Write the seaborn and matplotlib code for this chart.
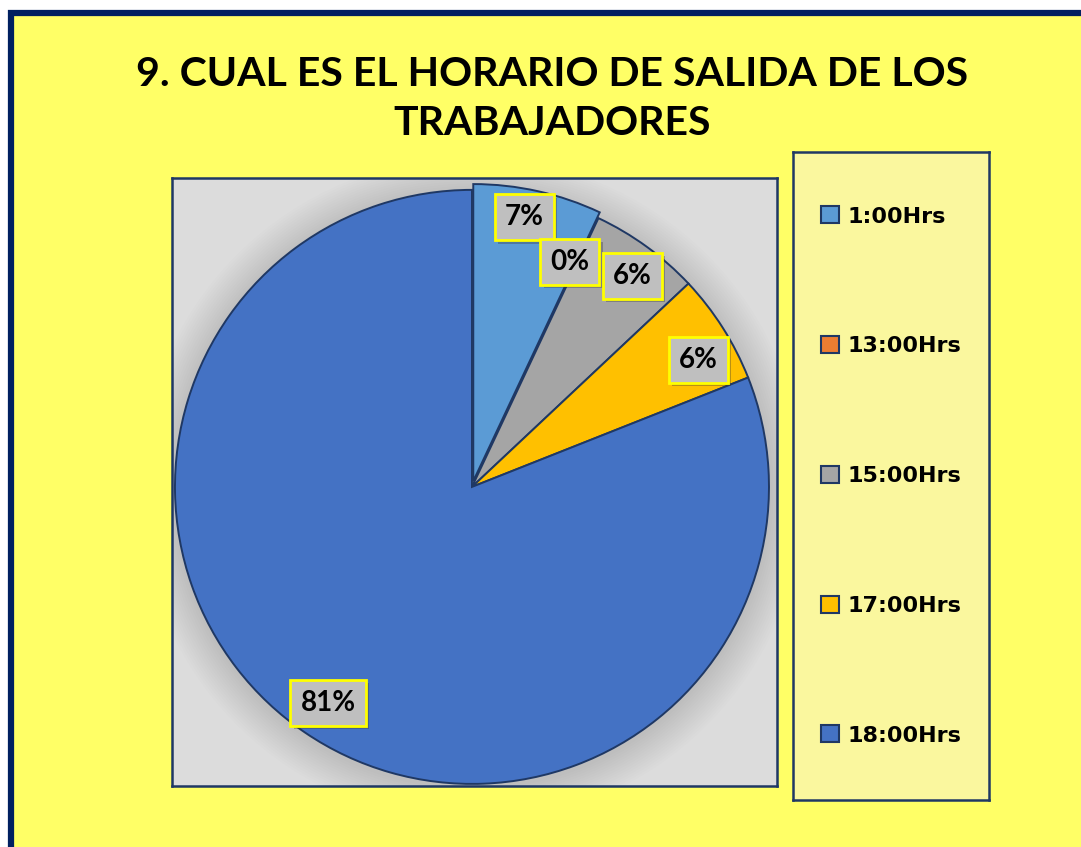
import numpy as np
import matplotlib
matplotlib.use('Agg')
import matplotlib.pyplot as plt
from matplotlib.patches import Rectangle, Patch, Circle
from matplotlib.lines import Line2D
import matplotlib.patheffects as pe
import seaborn as sns

# datos
categorias = ['1:00Hrs', '13:00Hrs', '15:00Hrs', '17:00Hrs', '18:00Hrs']
porcentajes = [7, 0, 6, 6, 81]
titulo = '9. CUAL ES EL HORARIO DE SALIDA DE LOS\nTRABAJADORES'

sns.set_theme(style='white')
plt.rcParams['font.family'] = ['DejaVu Sans']
plt.rcParams['text.color'] = 'black'

colores = sns.color_palette(['#5B9BD5', '#ED7D31', '#A5A5A5', '#FFC000', '#4472C4'])
azul_borde = '#1F3864'
marco = '#002060'

fig = plt.figure(figsize=(10.81, 8.47), dpi=100)
fig.patch.set_facecolor('#FFFF66')

# margen blanco y borde azul (arriba e izquierda)
x0, y0 = 11 / 1081, 1 - 13 / 847
fig.patches.append(Rectangle((0, y0), 1, 1 - y0, transform=fig.transFigure,
                             facecolor='white', edgecolor='none', zorder=-2))
fig.patches.append(Rectangle((0, 0), x0, 1, transform=fig.transFigure,
                             facecolor='white', edgecolor='none', zorder=-2))
fig.lines.append(Line2D([x0, x0, 1.05], [-0.05, y0, y0], transform=fig.transFigure,
                        color=marco, linewidth=4.5, solid_joinstyle='miter', zorder=-1))

# titulo
fig.text(0.511, 0.883, titulo, ha='center', va='center', fontsize=29.5,
         fontweight='bold', family=['Lato', 'DejaVu Sans'], color='black',
         linespacing=1.4)

# area del grafico
ax = fig.add_axes([172 / 1081, 1 - 786 / 847, 605 / 1081, 608 / 847])

# sombra suave detras del pastel
for k in range(1, 16):
    ax.add_patch(Circle((0, -0.01), 1.0 + 0.008 * k, facecolor='black',
                        edgecolor='none', alpha=0.009, zorder=0))

explode = [0.02, 0, 0, 0, 0]
wedges, textos, autotextos = ax.pie(
    porcentajes, colors=colores, startangle=90, counterclock=False,
    explode=explode, autopct=lambda p: f'{p:.0f}%', pctdistance=0.88,
    wedgeprops=dict(edgecolor=azul_borde, linewidth=1.4),
    textprops=dict(fontsize=20, color='black', fontweight='bold'))

# mover etiquetas: distancia radial y desfase angular individuales
distancias = [0.905, 0.826, 0.892, 0.873, 0.874]
desfases = [1.7, 1.7, -1.2, -3.1, 0.5]
for w, t, d, da in zip(wedges, autotextos, distancias, desfases):
    ang = np.deg2rad((w.theta1 + w.theta2) / 2 + da)
    cx, cy = w.center
    t.set_position((cx + d * np.cos(ang), cy + d * np.sin(ang)))
    t.set_family(['Lato', 'DejaVu Sans'])
    t.set_zorder(5)
    t.set_bbox(dict(boxstyle='square,pad=0.36', facecolor='#BFBFBF',
                    edgecolor='#FFFF00', linewidth=2))
    t.get_bbox_patch().set_path_effects(
        [pe.SimplePatchShadow(offset=(2.5, -2.5), alpha=0.35), pe.Normal()])

ax.set_frame_on(True)
ax.patch.set_visible(True)
ax.set_facecolor('#DCDCDC')
ax.set_aspect('auto')
ax.set_xlim(-1.010, 1.027)
ax.set_ylim(-1.007, 1.040)
for s in ax.spines.values():
    s.set_visible(True)
    s.set_color(azul_borde)
    s.set_linewidth(1.8)

# leyenda
ax_leg = fig.add_axes([793 / 1081, 1 - 800 / 847, 196 / 1081, 648 / 847])
ax_leg.set_facecolor('#FAF79E')
ax_leg.set_xticks([])
ax_leg.set_yticks([])
for s in ax_leg.spines.values():
    s.set_visible(True)
    s.set_color(azul_borde)
    s.set_linewidth(1.8)
handles = [Patch(facecolor=c, edgecolor=azul_borde, linewidth=1.5) for c in colores]
ax_leg.legend(handles, categorias, loc='center', frameon=False,
              prop=dict(size=16, weight='bold'), labelspacing=4.93,
              handlelength=0.8, handleheight=0.8, handletextpad=0.4)

fig.savefig('out.png', dpi=100, facecolor=fig.get_facecolor())
